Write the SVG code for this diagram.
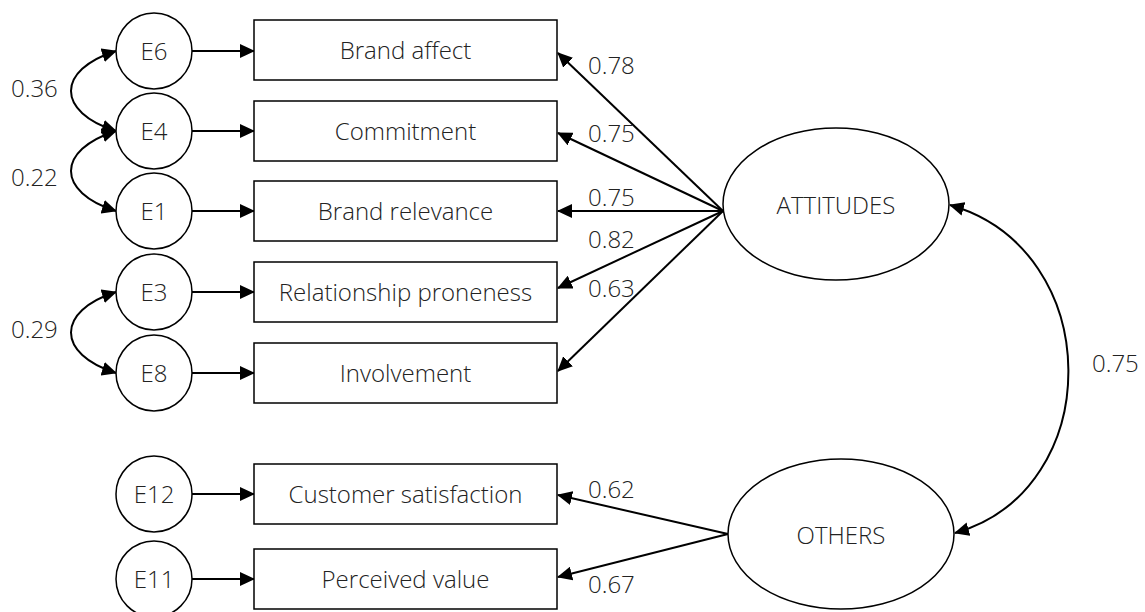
<svg xmlns="http://www.w3.org/2000/svg" width="1145" height="612" viewBox="0 0 1145 612">
<defs>
<marker id="ah" viewBox="0 0 15 14" refX="14" refY="7" markerUnits="userSpaceOnUse" markerWidth="15" markerHeight="14" orient="auto-start-reverse">
<path d="M0,0 L15,7 L0,14 z" fill="#000"/>
</marker>
<style>
.n{fill:#fff;stroke:#000;stroke-width:1.5}
.t{font-family:"Open Sans","Liberation Sans",sans-serif;font-size:24px;font-weight:300;fill:#222;text-anchor:middle}
.l{font-family:"Open Sans","Liberation Sans",sans-serif;font-size:24px;font-weight:300;fill:#222}
.c{fill:none;stroke:#000;stroke-width:2}
.a{marker-end:url(#ah)}
.b{marker-start:url(#ah);marker-end:url(#ah)}
</style>
</defs>
<rect width="1145" height="612" fill="#fff"/>
<g id="connectors">
<line class="c a" x1="192" y1="51" x2="254" y2="51"/>
<line class="c a" x1="192" y1="131" x2="254" y2="131"/>
<line class="c a" x1="192" y1="211" x2="254" y2="211"/>
<line class="c a" x1="192" y1="292" x2="254" y2="292"/>
<line class="c a" x1="192" y1="373" x2="254" y2="373"/>
<line class="c a" x1="192" y1="494" x2="254" y2="494"/>
<line class="c a" x1="192" y1="579" x2="254" y2="579"/>
<path class="c b" d="M116,51 C56,70 56,112 116,131"/>
<path class="c b" d="M116,131 C56,150 56,192 116,211"/>
<path class="c b" d="M116,292 C56,311 56,354 116,373"/>
<line class="c a" x1="723" y1="211" x2="558" y2="53"/>
<line class="c a" x1="723" y1="211" x2="558" y2="133"/>
<line class="c a" x1="723" y1="211" x2="558" y2="211"/>
<line class="c a" x1="723" y1="211" x2="558" y2="288"/>
<line class="c a" x1="723" y1="211" x2="558" y2="371"/>
<line class="c a" x1="728" y1="534" x2="558" y2="495"/>
<line class="c a" x1="728" y1="534" x2="558" y2="577"/>
<path class="c b" d="M950,205 C1107,250 1107,490 955,533"/>
<text class="l" x="11" y="97">0.36</text>
<text class="l" x="11" y="186">0.22</text>
<text class="l" x="11" y="338">0.29</text>
<text class="l" x="588" y="74">0.78</text>
<text class="l" x="588" y="142">0.75</text>
<text class="l" x="588" y="206">0.75</text>
<text class="l" x="588" y="248">0.82</text>
<text class="l" x="588" y="297">0.63</text>
<text class="l" x="588" y="498">0.62</text>
<text class="l" x="588" y="593">0.67</text>
<text class="l" x="1092" y="372">0.75</text>
</g>
<g id="E6"><circle class="n" cx="154" cy="51" r="38"/><text class="t" x="154" y="60">E6</text></g>
<g id="E4"><circle class="n" cx="154" cy="131" r="38"/><text class="t" x="154" y="140">E4</text></g>
<g id="E1"><circle class="n" cx="154" cy="211" r="38"/><text class="t" x="154" y="220">E1</text></g>
<g id="E3"><circle class="n" cx="154" cy="292" r="38"/><text class="t" x="154" y="301">E3</text></g>
<g id="E8"><circle class="n" cx="154" cy="373" r="38"/><text class="t" x="154" y="382">E8</text></g>
<g id="E12"><circle class="n" cx="154" cy="494" r="38"/><text class="t" x="154" y="503">E12</text></g>
<g id="E11"><circle class="n" cx="154" cy="579" r="38"/><text class="t" x="154" y="588">E11</text></g>
<g id="brand-affect"><rect class="n" x="254" y="20" width="303" height="60"/><text class="t" x="405.5" y="59">Brand affect</text></g>
<g id="commitment"><rect class="n" x="254" y="101" width="303" height="60"/><text class="t" x="405.5" y="140">Commitment</text></g>
<g id="brand-relevance"><rect class="n" x="254" y="181" width="303" height="60"/><text class="t" x="405.5" y="220">Brand relevance</text></g>
<g id="relationship-proneness"><rect class="n" x="254" y="262" width="303" height="60"/><text class="t" x="405.5" y="301">Relationship proneness</text></g>
<g id="involvement"><rect class="n" x="254" y="343" width="303" height="60"/><text class="t" x="405.5" y="382">Involvement</text></g>
<g id="customer-satisfaction"><rect class="n" x="254" y="464" width="303" height="60"/><text class="t" x="405.5" y="503">Customer satisfaction</text></g>
<g id="perceived-value"><rect class="n" x="254" y="549" width="303" height="60"/><text class="t" x="405.5" y="588">Perceived value</text></g>
<g id="attitudes"><ellipse class="n" cx="836" cy="204" rx="113" ry="76"/><text class="t" x="836" y="214">ATTITUDES</text></g>
<g id="others"><ellipse class="n" cx="841" cy="534" rx="113" ry="75"/><text class="t" x="841" y="544">OTHERS</text></g>
</svg>
